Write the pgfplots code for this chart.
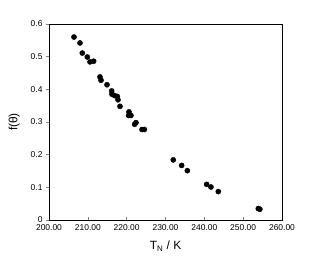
\documentclass[border=0pt]{standalone}
\usepackage{fontspec}
\setmainfont{Liberation Sans}
\usepackage{pgfplots}
\pgfplotsset{compat=1.18}
\begin{document}
\begin{tikzpicture}
\begin{axis}[
  name=ax,
  scale only axis,
  width=233bp, height=196bp,
  xmin=200, xmax=260, ymin=0, ymax=0.6,
  xtick={200,210,...,260},
  ytick={0,0.1,...,0.6},
  axis line style={line width=0.8pt},
  x tick style={line width=0.6pt},
  y tick style={line width=0.6pt},
  tick align=inside,
  ytick align=outside,
  major tick length=3bp,
  xtick pos=bottom, ytick pos=left,
  /pgf/number format/assume math mode=true,
  xticklabel style={font=\fontsize{8.5}{10}\selectfont, yshift=-1.5bp, /pgf/number format/.cd, fixed, fixed zerofill, precision=2},
  yticklabel style={font=\fontsize{8.5}{10}\selectfont, /pgf/number format/.cd, fixed, precision=1},
  scaled ticks=false,
  xlabel={T\textsubscript{N} / K},
  ylabel={f(θ)},
  label style={font=\fontsize{12}{14}\selectfont},
  xlabel style={yshift=-3bp},
  ylabel style={yshift=4bp},
]
\addplot[only marks, mark=*, mark size=2.6pt, black] coordinates {
(206.44,0.560) (207.98,0.542) (208.58,0.511) (209.87,0.499) (210.56,0.484)
(211.5,0.486) (213.13,0.438) (213.39,0.428) (214.94,0.414) (216.14,0.395)
(216.22,0.385) (216.9,0.381) (217.6,0.378) (217.77,0.368) (218.28,0.348)
(220.6,0.331) (220.5,0.320) (221.1,0.320) (222.06,0.293) (222.4,0.298)
(223.95,0.277) (224.55,0.277) (232.0,0.184) (234.16,0.167) (235.62,0.151)
(240.6,0.109) (241.7,0.101) (243.6,0.087) (253.9,0.035) (254.3,0.033)
};
\end{axis}
\pgfresetboundingbox
\path ([shift={(-49bp,-52bp)}]ax.south west) rectangle ([shift={(29bp,24bp)}]ax.north east);
\end{tikzpicture}
\end{document}
